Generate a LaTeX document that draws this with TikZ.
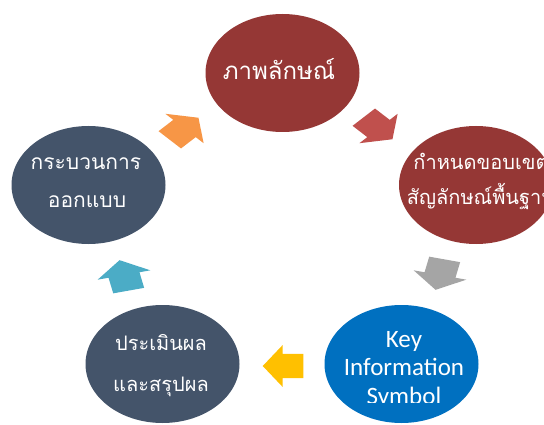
\documentclass[tikz,border=0pt]{standalone}
\usepackage{fontspec}
\setmainfont{Carlito}
\newfontfamily\thaifont[Script=Thai]{Loma}
\usetikzlibrary{shapes.geometric}
\definecolor{bubred}{HTML}{953735}
\definecolor{bubslate}{HTML}{44546A}
\definecolor{bubblue}{HTML}{0070C0}
\definecolor{arrred}{HTML}{C0504D}
\definecolor{arrgray}{HTML}{A5A5A5}
\definecolor{arryellow}{HTML}{FFC000}
\definecolor{arrteal}{HTML}{4BACC6}
\definecolor{arrorange}{HTML}{F79646}
\newcommand{\blkarrow}[4]{%
  \begin{scope}[shift={(#1,#2)}, xscale=1.3, rotate=#3]
    \fill[#4] (-16,-12.2) -- (0,-12.2) -- (0,-20.8) -- (15.2,0) -- (0,20.8) -- (0,12.2) -- (-16,12.2) -- cycle;
  \end{scope}}
\begin{document}
\begin{tikzpicture}[x=1pt,y=-1pt,
  bub/.style={ellipse, minimum width=154pt, minimum height=118pt, inner sep=0pt, draw=none},
  thbig/.style={font=\thaifont\fontsize{24}{24}\selectfont, text=white, anchor=base, inner sep=0pt},
  thmid/.style={font=\thaifont\fontsize{21}{21}\selectfont, text=white, anchor=base, inner sep=0pt},
  thsmall/.style={font=\thaifont\fontsize{20}{20}\selectfont, text=white, anchor=base, inner sep=0pt},
  entxt/.style={font=\fontsize{25}{25}\selectfont, text=white, anchor=base, inner sep=0pt}]
\useasboundingbox (0,0) rectangle (544,425);
\clip (0,0) rectangle (544,425);
\fill[white] (0,0) rectangle (544,425);
% bubbles
\node[bub, fill=bubred] (n1) at (282.5,73) {};
\node[bub, fill=bubred] (n2) at (476,185) {};
\node[bub, fill=bubblue] (n3) at (401.5,364) {};
\node[bub, fill=bubslate] (n4) at (162.5,364) {};
\node[bub, fill=bubslate] (n5) at (88.5,185) {};
% texts
\node[thbig] (t1) at (279,80) {ภาพลักษณ์};
\node[thsmall] (t2a) at (481,170) {กำหนดขอบเขต};
\node[thsmall] (t2b) at (481,205) {สัญลักษณ์พื้นฐาน};
\node[thmid] (t5a) at (86,169.5) {กระบวนการ};
\node[thmid] (t5b) at (87,207.5) {ออกแบบ};
\node[thsmall] (t4a) at (161,350) {ประเมินผล};
\node[thsmall] (t4b) at (161,391) {และสรุปผล};
\begin{scope}
  \clip (300,300) rectangle (500,402);
  \node[entxt] (t3a) at (404,347) {Key};
  \node[entxt] (t3b) at (404,375) {Information};
  \node[entxt] (t3c) at (404,404) {Symbol};
\end{scope}
% arrows
\blkarrow{184.5}{128.5}{45}{arrorange}
\blkarrow{378.5}{128.5}{-45}{arrred}
\blkarrow{440}{275}{-103}{arrgray}
\blkarrow{282.5}{366}{180}{arryellow}
\blkarrow{124}{275}{103}{arrteal}
\end{tikzpicture}
\end{document}
